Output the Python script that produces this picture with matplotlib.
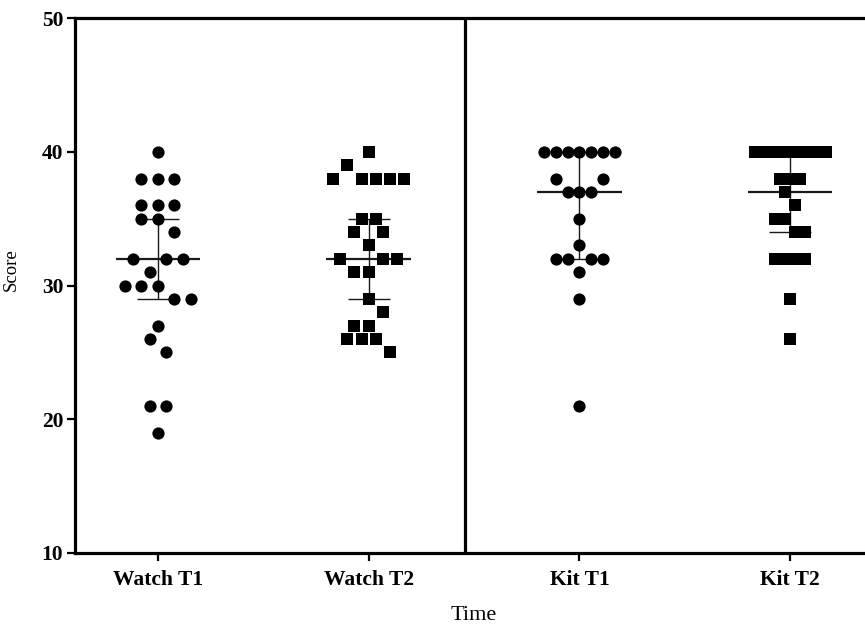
import numpy as np
import matplotlib
matplotlib.use("Agg")
import matplotlib.pyplot as plt

plt.rcParams['font.family'] = ['Liberation Serif', 'DejaVu Serif']

# Scores per group (within each row of the swarm, listed left to right)
groups = ["Watch T1", "Watch T2", "Kit T1", "Kit T2"]
watch_t1 = [40, 38, 38, 38, 36, 36, 36, 35, 35, 34, 32, 31, 32, 32,
            30, 30, 30, 29, 29, 27, 26, 25, 21, 21, 19]
watch_t2 = [40, 38, 39, 38, 38, 38, 38, 35, 35, 34, 33, 34,
            32, 31, 31, 32, 32, 29, 27, 27, 28, 26, 26, 26, 25]
kit_t1 = [40, 40, 40, 40, 40, 40, 40, 38, 37, 37, 37, 38, 35, 33,
          32, 32, 31, 32, 32, 29, 21]
kit_t2 = [40, 40, 40, 40, 40, 40, 40, 40, 38, 38, 38, 37, 36,
          35, 35, 34, 34, 32, 32, 32, 32, 29, 26]
markers = ['o', 's', 'o', 's']

# median and interquartile range as drawn
medians = [32, 32, 37, 37]
q1 = [29, 29, 32, 34]
q3 = [35, 35, 40, 40]


# Prism-like column scatter: values are binned bottom-up (bin = start .. start+1),
# each bin becomes a centred row, spacing shrinks if the widest row is too wide
def swarm_offsets(values, unit=0.079, max_span=0.336):
    vals = np.asarray(values, dtype=float)
    order = np.argsort(vals, kind='stable')
    rows = []
    start = None
    for i in order:
        if start is None or vals[i] > start + 1.01:
            rows.append([])
            start = vals[i]
        rows[-1].append(i)
    nmax = max(len(r) for r in rows)
    if nmax > 1:
        unit = min(unit, max_span / (nmax - 1))
    offs = np.zeros(len(vals))
    for r in rows:
        r = sorted(r)
        for k, i in enumerate(r):
            offs[i] = (k - (len(r) - 1) / 2) * unit
    return offs


fig = plt.figure(figsize=(8.65, 6.30), dpi=100)
ax = fig.add_axes([75 / 865, 77 / 630, 798 / 865, 535 / 630])

data = [watch_t1, watch_t2, kit_t1, kit_t2]
xpos = np.arange(len(groups))
for x, vals, m in zip(xpos, data, markers):
    offs = swarm_offsets(vals)
    ax.plot(x + offs, vals, linestyle='none', marker=m, color='black',
            markersize=8.8 if m == 'o' else 8.0, markeredgewidth=0, zorder=3)

line_col = '#1a1a1a'
ax.hlines(medians, xpos - 0.2, xpos + 0.2, color=line_col, lw=1.6, zorder=2)
ax.vlines(xpos, q1, q3, color=line_col, lw=1.0, zorder=2)
ax.hlines(q1, xpos - 0.1, xpos + 0.1, color=line_col, lw=1.0, zorder=2)
ax.hlines(q3, xpos - 0.1, xpos + 0.1, color=line_col, lw=1.0, zorder=2)

ax.axvline(1.455, color='black', lw=2.3, zorder=4)

ax.set_xlim(-0.393, 3.393)
ax.set_ylim(10, 50)
ax.set_yticks([10, 20, 30, 40, 50])
ax.set_xticks(xpos)
ax.set_xticklabels(groups)

for s in ax.spines.values():
    s.set_linewidth(2.3)
ax.tick_params(axis='both', length=5.5, width=1.6, labelsize=15.5)
ax.tick_params(axis='x', pad=7)
ax.tick_params(axis='y', pad=3)
for lab in ax.get_xticklabels() + ax.get_yticklabels():
    lab.set_fontweight('bold')

ax.set_xlabel('Time', fontsize=16, labelpad=11)
ax.set_ylabel('Score', fontsize=13.5)
ax.yaxis.set_label_coords(-0.069, 0.53)

fig.savefig('out.png', dpi=100)
